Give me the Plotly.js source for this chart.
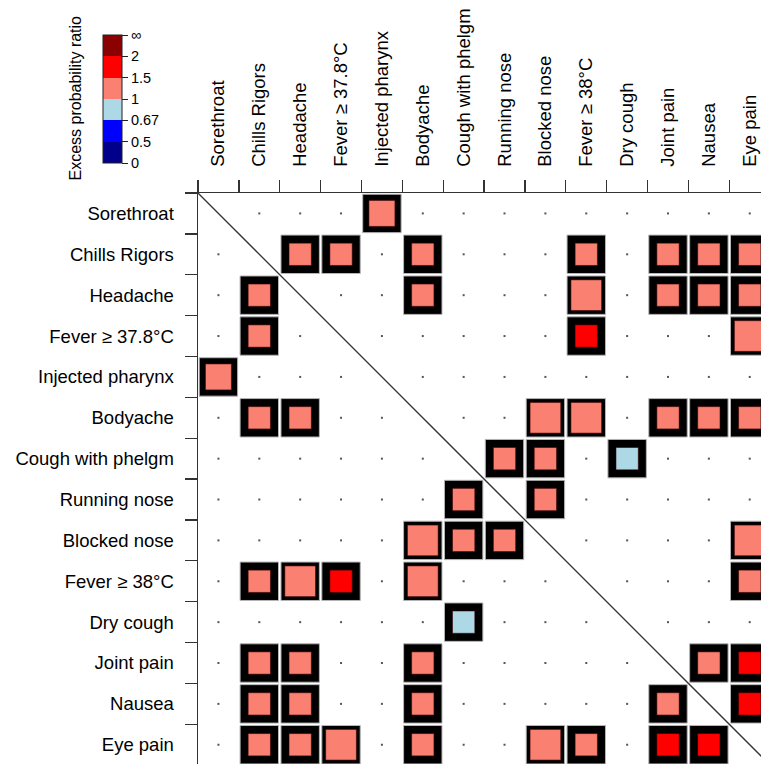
<!DOCTYPE html>
<html>
<head>
<meta charset="utf-8">
<script src="https://cdn.plot.ly/plotly-3.0.1.min.js"></script>
<style>html,body{margin:0;padding:0;background:#fff;}#chart{width:761px;height:764px;}</style>
</head>
<body>
<div id="chart"></div>
<script>
// ---- data ----
const symptoms = ['Sorethroat','Chills Rigors','Headache','Fever \u2265 37.8\u00b0C','Injected pharynx','Bodyache',
  'Cough with phelgm','Running nose','Blocked nose','Fever \u2265 38\u00b0C','Dry cough','Joint pain','Nausea','Eye pain'];

// symptom pairs that show an association (matrix is symmetric)
const pairA = ['Sorethroat','Chills Rigors','Chills Rigors','Chills Rigors','Chills Rigors','Chills Rigors','Chills Rigors','Chills Rigors',
  'Headache','Headache','Headache','Headache','Headache',
  'Fever \u2265 37.8\u00b0C','Fever \u2265 37.8\u00b0C',
  'Bodyache','Bodyache','Bodyache','Bodyache','Bodyache',
  'Cough with phelgm','Cough with phelgm','Cough with phelgm',
  'Running nose','Blocked nose','Fever \u2265 38\u00b0C','Joint pain','Joint pain','Nausea'];
const pairB = ['Injected pharynx','Headache','Fever \u2265 37.8\u00b0C','Bodyache','Fever \u2265 38\u00b0C','Joint pain','Nausea','Eye pain',
  'Bodyache','Fever \u2265 38\u00b0C','Joint pain','Nausea','Eye pain',
  'Fever \u2265 38\u00b0C','Eye pain',
  'Blocked nose','Fever \u2265 38\u00b0C','Joint pain','Nausea','Eye pain',
  'Running nose','Blocked nose','Dry cough',
  'Blocked nose','Eye pain','Eye pain','Nausea','Eye pain','Eye pain'];
// excess probability ratio of each pair (estimated within its colour band)
const ratio = [1.3,1.3,1.3,1.3,1.3,1.3,1.3,1.3,
  1.3,1.3,1.3,1.3,1.3,
  1.8,1.3,
  1.3,1.3,1.3,1.3,1.3,
  1.3,1.3,0.85,
  1.3,1.3,1.3,1.3,1.8,1.8];
// confidence level of each pair (1 = lowest, 3 = highest)
const level = [2,1,1,1,1,1,1,1,
  1,3,1,1,1,
  1,3,
  3,3,1,1,1,
  1,1,1,
  1,3,1,1,1,1];

// colour legend
const bandBreaks = [0,0.5,0.67,1,1.5,2,Infinity];
const bandLabels = ['0','0.5','0.67','1','1.5','2','\u221e'];
const bandColors = ['#00008B','#0000FF','#ADD8E6','#FA8072','#FF0000','#8B0000'];

// ---- build ----
const n = symptoms.length;
const cellMap = {};
pairA.forEach((a,k)=>{
  const i = symptoms.indexOf(a), j = symptoms.indexOf(pairB[k]);
  cellMap[i+','+j] = k; cellMap[j+','+i] = k;
});

const dotX=[],dotY=[],boxX=[],boxY=[],inC=[],inS=[];
const cellPx = 40.87;
const innerFrac = {1:0.57, 2:0.66, 3:0.775};
function band(v){ for(let b=0;b<bandBreaks.length-1;b++){ if(v>=bandBreaks[b] && v<bandBreaks[b+1]) return b; } return bandColors.length-1; }
for(let i=0;i<n;i++){
  for(let j=0;j<n;j++){
    if(i===j) continue;
    const k = cellMap[i+','+j];
    if(k===undefined){ dotX.push(symptoms[j]); dotY.push(symptoms[i]); }
    else{
      boxX.push(symptoms[j]); boxY.push(symptoms[i]);
      inC.push(band(ratio[k])+0.5);
      inS.push(cellPx*innerFrac[level[k]]-1);
    }
  }
}

const cs=[];
bandColors.forEach((c,b)=>{ cs.push([b/bandColors.length,c]); cs.push([(b+1)/bandColors.length,c]); });

const font = 'Liberation Sans, Arial, Helvetica, sans-serif';
const W=761,H=764,L=198,T=193;
const pw=W-L, ph=H-T;
const xr=[-0.5,-0.5+pw/cellPx], yr=[-0.5+ph/cellPx,-0.5];

// colour bar placement (px)
const cbLeft=103, cbTop=35, cbLen=128, cbThick=19;

const traces = [
  {type:'scatter',mode:'markers',x:dotX,y:dotY,hoverinfo:'skip',
   marker:{symbol:'square',size:2,color:'#555',opacity:1}},
  {type:'scatter',mode:'markers',x:boxX,y:boxY,hoverinfo:'skip',
   marker:{symbol:'square',size:cellPx*0.94,color:'#000',opacity:1,line:{color:'#b5b5b5',width:1}}},
  {type:'scatter',mode:'markers',x:boxX,y:boxY,hoverinfo:'skip',
   marker:{symbol:'square',size:inS,color:inC,colorscale:cs,cmin:0,cmax:bandColors.length,opacity:1,
     line:{color:'rgba(60,0,0,0.55)',width:1},
     showscale:true,
     colorbar:{x:(cbLeft-L)/pw,xanchor:'left',y:(H-(cbTop+cbLen))/ph,yanchor:'bottom',
       lenmode:'pixels',len:cbLen,thicknessmode:'pixels',thickness:cbThick,xpad:0,ypad:0,
       outlinewidth:1,outlinecolor:'#222',bgcolor:'rgba(0,0,0,0)',borderwidth:0,
       tickmode:'array',tickvals:bandLabels.map((_,i)=>i),ticktext:bandLabels,
       ticks:'outside',ticklen:6,tickwidth:1,tickcolor:'#222',
       tickfont:{family:font,size:14.5,color:'#000'},title:{text:''}}}}
];

const shapes = [
  {type:'line',xref:'x',yref:'y',x0:-0.5,y0:-0.5,x1:n-0.5,y1:n-0.5,line:{color:'#333',width:1.3}}
];
for(let b=1;b<bandColors.length;b++){
  const py = cbTop + cbLen*b/bandColors.length;
  shapes.push({type:'line',xref:'paper',yref:'paper',x0:(cbLeft-L)/pw,x1:(cbLeft+cbThick-L)/pw,
    y0:(H-py)/ph,y1:(H-py)/ph,line:{color:'#222',width:1}});
}

const axisCommon = {type:'category',categoryorder:'array',categoryarray:symptoms,
  tickson:'boundaries',ticks:'outside',ticklen:12,tickwidth:1.3,tickcolor:'#333',
  showline:true,linecolor:'#333',linewidth:1.5,showgrid:false,zeroline:false,
  tickfont:{family:font,size:18.5,color:'#000'},fixedrange:true,automargin:false};

const layout = {
  width:W,height:H,margin:{l:L,r:0,t:T,b:0,pad:0,autoexpand:false},
  paper_bgcolor:'#fff',plot_bgcolor:'#fff',showlegend:false,
  xaxis:Object.assign({},axisCommon,{side:'top',tickangle:-90,range:xr,ticklabelstandoff:21}),
  yaxis:Object.assign({},axisCommon,{range:yr,ticklabelstandoff:19}),
  shapes:shapes,
  annotations:[{xref:'paper',yref:'paper',x:(75-L)/pw,y:(H-98.5)/ph,text:'Excess probability ratio',
    textangle:-90,showarrow:false,xanchor:'center',yanchor:'middle',font:{family:font,size:16,color:'#000'}}]
};

Plotly.newPlot('chart',traces,layout,{displayModeBar:false,staticPlot:true});
</script>
</body>
</html>
